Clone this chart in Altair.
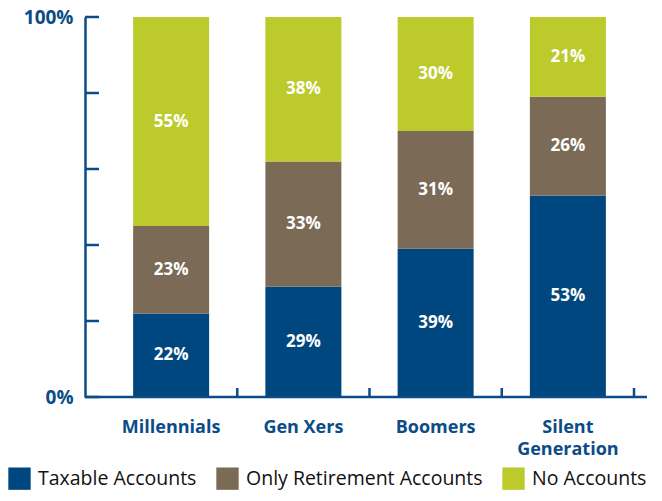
import altair as alt
import pandas as pd

generations = ["Millennials", "Gen Xers", "Boomers", "Silent Generation"]
series_names = ["Taxable Accounts", "Only Retirement Accounts", "No Accounts"]
taxable = [22, 29, 39, 53]
retirement_only = [23, 33, 31, 26]
no_accounts = [55, 38, 30, 21]
y_tick_values = [0, 20, 40, 60, 80, 100]
colors = ["#00477F", "#7B6A56", "#BCCB2B"]
BLUE = "#0B4C86"
FONT = "Open Sans"

rows = []
for i, g in enumerate(generations):
    for k, (name, vals) in enumerate(zip(series_names, [taxable, retirement_only, no_accounts])):
        rows.append({"gen": g, "series": name, "order": k, "value": vals[i]})
df = pd.DataFrame(rows)

xscale = alt.Scale(domain=generations, range=[20, 549], paddingInner=0, paddingOuter=0)
yscale = alt.Scale(domain=[0, 100])

base = alt.Chart(df).transform_stack(
    stack="value", groupby=["gen"], as_=["y0", "y1"], sort=[alt.SortField("order")]
).transform_calculate(mid="(datum.y0 + datum.y1) / 2", label="datum.value + '%'")

bars = base.mark_bar(size=76).encode(
    x=alt.X("gen:N", scale=xscale, sort=generations,
            axis=alt.Axis(title=None, domain=False, ticks=False, labelAngle=0,
                          labelFont=FONT, labelFontSize=18, labelFontWeight="bold",
                          labelColor=BLUE, labelPadding=21, labelLineHeight=22,
                          labelExpr="datum.value == 'Silent Generation' ? ['Silent', 'Generation'] : datum.value")),
    y=alt.Y("y0:Q", scale=yscale,
            axis=alt.Axis(title=None, values=[0, 100], labelExpr="datum.value + '%'",
                          labelFont=FONT, labelFontSize=19, labelFontWeight="bold",
                          labelColor=BLUE, labelPadding=12, domain=True, domainColor=BLUE,
                          domainWidth=2.5, ticks=False, grid=False)),
    y2="y1:Q",
    color=alt.Color("series:N", scale=alt.Scale(domain=series_names, range=colors),
                    legend=alt.Legend(title=None, orient="none", legendX=-77, legendY=450,
                                      direction="horizontal", symbolType="square",
                                      symbolSize=500, symbolStrokeWidth=0,
                                      labelFont=FONT, labelFontSize=19.5, labelColor="#111111",
                                      labelOffset=7, columnPadding=19, labelLimit=400)),
)

texts = base.mark_text(color="white", font=FONT, fontSize=17, fontWeight="bold").encode(
    x=alt.X("gen:N", scale=xscale, sort=generations),
    y=alt.Y("mid:Q", scale=yscale),
    text="label:N",
)

ytick_df = pd.DataFrame({"v": y_tick_values})
yticks = alt.Chart(ytick_df).mark_rule(color=BLUE, strokeWidth=2.5).encode(
    y=alt.Y("v:Q", scale=yscale), x=alt.value(0), x2=alt.value(14)
)

xtick_df = pd.DataFrame({"gen": generations})
xticks = alt.Chart(xtick_df).mark_rule(color=BLUE, strokeWidth=2.5).encode(
    x=alt.X("gen:N", scale=xscale, sort=generations, bandPosition=1),
    y=alt.value(380), y2=alt.value(371)
)

xline = alt.Chart(pd.DataFrame({"a": [0]})).mark_rule(color=BLUE, strokeWidth=2.5).encode(
    x=alt.value(0), x2=alt.value(562), y=alt.value(380)
)

chart = alt.layer(bars, texts, yticks, xticks, xline).properties(
    width=562, height=380,
    autosize=alt.AutoSizeParams(type="none"),
    padding={"left": 77, "top": 9, "right": 7, "bottom": 95},
).configure_view(stroke=None)

chart.save("out.html", embed_options={"renderer": "svg", "actions": False})
